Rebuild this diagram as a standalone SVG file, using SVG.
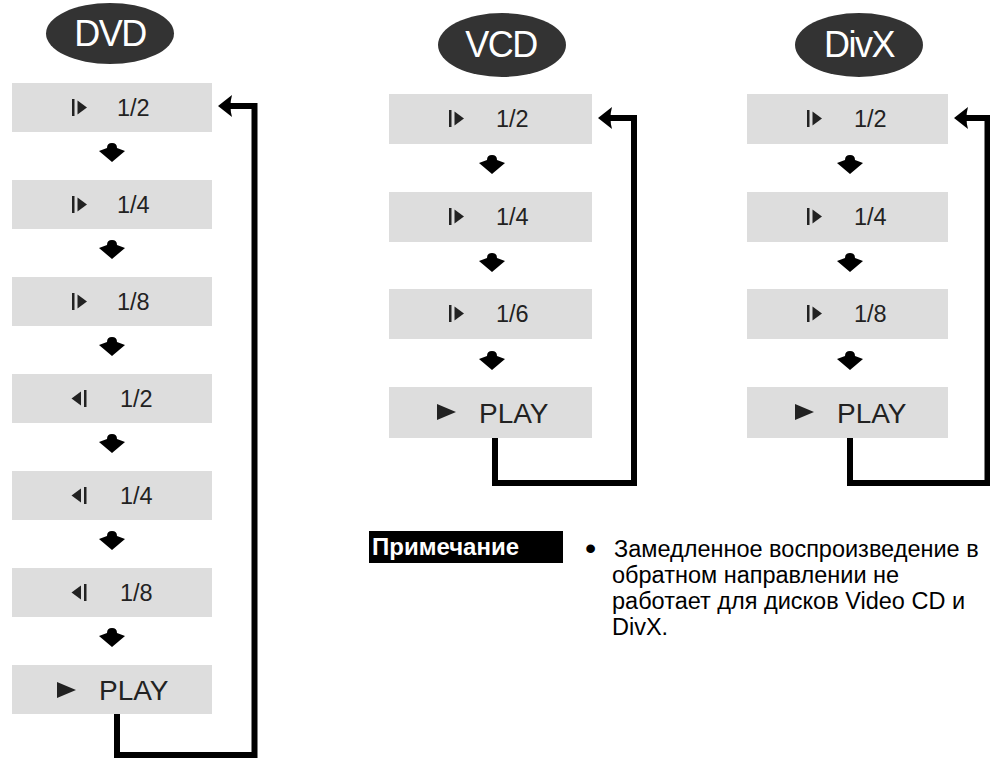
<svg xmlns="http://www.w3.org/2000/svg" xmlns:xlink="http://www.w3.org/1999/xlink" width="990" height="760" viewBox="0 0 990 760">
<style>
.box{fill:#dddddd}
.hdr{fill:#333333}
.ht{font-family:"Liberation Sans",Arial,sans-serif;font-size:36px;fill:#ffffff;text-anchor:middle;letter-spacing:-1.5px}
.lb{font-family:"Liberation Sans",Arial,sans-serif;font-size:23.5px;fill:#222222}
.pl{font-family:"Liberation Sans",Arial,sans-serif;font-size:28px;fill:#222222}
.ic{fill:#222222}
.ln{fill:none;stroke:#000000;stroke-width:6;stroke-linejoin:miter;stroke-linecap:butt}
.nt{font-family:"Liberation Sans",Arial,sans-serif;font-size:23.5px;fill:#000000}
.nh{font-family:"Liberation Sans",Arial,sans-serif;font-size:24px;font-weight:bold;fill:#ffffff}
</style>
<defs>
<g id="fw"><rect x="0" y="0" width="2.5" height="17"/><polygon points="5.5,1.5 15,8.5 5.5,15.5"/></g>
<g id="rv"><polygon points="10,1.5 0.5,8.5 10,15.5"/><rect x="13" y="0" width="2.5" height="17"/></g>
<path id="dn" d="M0,-10 Q5,-10 5,-5 L13,-2 L0,9 L-13,-2 L-5,-5 Q-5,-10 0,-10 Z" fill="#000"/>
<path id="lh" d="M0,0 L14,-11 Q11,0 14,11 Z" fill="#000"/>
</defs>

<!-- headers -->
<g id="hdr-dvd"><ellipse class="hdr" cx="110" cy="33.5" rx="64" ry="30.5"/><text class="ht" x="110" y="45.5">DVD</text></g>
<g id="hdr-vcd"><ellipse class="hdr" cx="502" cy="45" rx="64" ry="32"/><text class="ht" x="501" y="57">VCD</text></g>
<g id="hdr-divx"><ellipse class="hdr" cx="859" cy="45" rx="64" ry="32"/><text class="ht" x="859" y="57">DivX</text></g>

<!-- DVD column -->
<g id="dvd1"><rect class="box" x="12" y="83" width="200" height="49"/><use xlink:href="#fw" class="ic" x="72" y="99"/><text class="lb" x="117" y="116">1/2</text></g>
<g id="dvd2"><rect class="box" x="12" y="180" width="200" height="49"/><use xlink:href="#fw" class="ic" x="72" y="196"/><text class="lb" x="117" y="213">1/4</text></g>
<g id="dvd3"><rect class="box" x="12" y="277" width="200" height="49"/><use xlink:href="#fw" class="ic" x="72" y="293"/><text class="lb" x="117" y="310">1/8</text></g>
<g id="dvd4"><rect class="box" x="12" y="374" width="200" height="49"/><use xlink:href="#rv" class="ic" x="71" y="390"/><text class="lb" x="120" y="407">1/2</text></g>
<g id="dvd5"><rect class="box" x="12" y="471" width="200" height="49"/><use xlink:href="#rv" class="ic" x="71" y="487"/><text class="lb" x="120" y="504">1/4</text></g>
<g id="dvd6"><rect class="box" x="12" y="568" width="200" height="49"/><use xlink:href="#rv" class="ic" x="71" y="584"/><text class="lb" x="120" y="601">1/8</text></g>
<g id="dvd7"><rect class="box" x="12" y="665" width="200" height="49"/><polygon class="ic" points="57,682 76,690 57,698"/><text class="pl" x="99" y="700">PLAY</text></g>

<!-- VCD column -->
<g id="vcd1"><rect class="box" x="389" y="94" width="203" height="50"/><use xlink:href="#fw" class="ic" x="449" y="110"/><text class="lb" x="496" y="127">1/2</text></g>
<g id="vcd2"><rect class="box" x="389" y="192" width="203" height="50"/><use xlink:href="#fw" class="ic" x="449" y="208"/><text class="lb" x="496" y="225">1/4</text></g>
<g id="vcd3"><rect class="box" x="389" y="289" width="203" height="50"/><use xlink:href="#fw" class="ic" x="449" y="305"/><text class="lb" x="496" y="322">1/6</text></g>
<g id="vcd4"><rect class="box" x="389" y="387" width="203" height="51"/><polygon class="ic" points="437,404 456,412 437,420"/><text class="pl" x="479" y="423">PLAY</text></g>

<!-- DivX column -->
<g id="divx1"><rect class="box" x="747" y="94" width="201" height="50"/><use xlink:href="#fw" class="ic" x="807" y="110"/><text class="lb" x="854" y="127">1/2</text></g>
<g id="divx2"><rect class="box" x="747" y="192" width="201" height="50"/><use xlink:href="#fw" class="ic" x="807" y="208"/><text class="lb" x="854" y="225">1/4</text></g>
<g id="divx3"><rect class="box" x="747" y="289" width="201" height="50"/><use xlink:href="#fw" class="ic" x="807" y="305"/><text class="lb" x="854" y="322">1/8</text></g>
<g id="divx4"><rect class="box" x="747" y="387" width="201" height="51"/><polygon class="ic" points="795,404 814,412 795,420"/><text class="pl" x="837" y="423">PLAY</text></g>

<!-- connectors -->
<g id="connectors">
<use xlink:href="#dn" x="112" y="153"/>
<use xlink:href="#dn" x="112" y="250"/>
<use xlink:href="#dn" x="112" y="347"/>
<use xlink:href="#dn" x="112" y="444"/>
<use xlink:href="#dn" x="112" y="541"/>
<use xlink:href="#dn" x="112" y="638"/>
<path class="ln" d="M117,714 V755 H254.5 V106 H228"/>
<use xlink:href="#lh" x="218" y="106"/>

<use xlink:href="#dn" x="492" y="165"/>
<use xlink:href="#dn" x="492" y="263"/>
<use xlink:href="#dn" x="492" y="361"/>
<path class="ln" d="M495,438 V483 H634 V118 H608"/>
<use xlink:href="#lh" x="598" y="118"/>

<use xlink:href="#dn" x="850" y="165"/>
<use xlink:href="#dn" x="850" y="263"/>
<use xlink:href="#dn" x="850" y="361"/>
<path class="ln" d="M850,438 V483 H987.5 V118 H964"/>
<use xlink:href="#lh" x="954" y="118"/>
</g>

<!-- note -->
<g id="note">
<rect x="369" y="531" width="194" height="32" fill="#000"/>
<text class="nh" x="372" y="555">Примечание</text>
<text class="nt" x="585" y="559" style="font-size:32px">•</text>
<text class="nt" x="614" y="557">Замедленное воспроизведение в</text>
<text class="nt" x="612" y="583">обратном направлении не</text>
<text class="nt" x="612" y="609">работает для дисков Video CD и</text>
<text class="nt" x="612" y="635">DivX.</text>
</g>
</svg>
